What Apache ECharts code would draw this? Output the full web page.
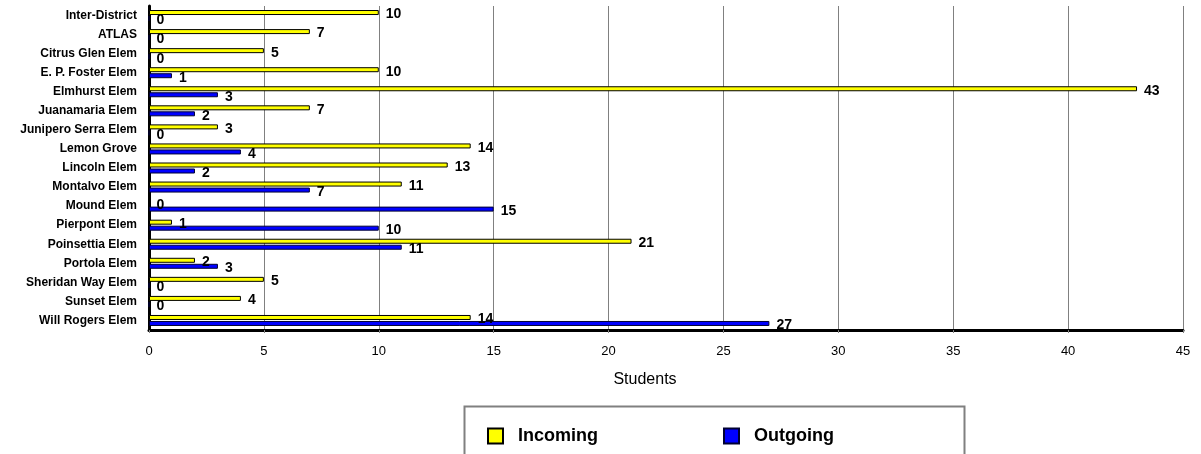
<!DOCTYPE html>
<html>
<head>
<meta charset="utf-8">
<script src="https://cdn.jsdelivr.net/npm/echarts@6/dist/echarts.min.js"></script>
<style>
html,body{margin:0;padding:0;background:#fff;}
#chart{width:1201px;height:454px;}
</style>
</head>
<body>
<div id="chart"></div>
<script>
const categories = ["Inter-District","ATLAS","Citrus Glen Elem","E. P. Foster Elem","Elmhurst Elem","Juanamaria Elem","Junipero Serra Elem","Lemon Grove","Lincoln Elem","Montalvo Elem","Mound Elem","Pierpont Elem","Poinsettia Elem","Portola Elem","Sheridan Way Elem","Sunset Elem","Will Rogers Elem"];
const incoming = [10,7,5,10,43,7,3,14,13,11,0,1,21,2,5,4,14];
const outgoing = [0,0,0,1,3,2,0,4,2,7,15,10,11,3,0,0,27];
const xTicks = {min:0, max:45, interval:5};
const axisTitle = "Students";
const seriesNames = ["Incoming","Outgoing"];

const FONT = "'Liberation Sans', Arial, sans-serif";
const chart = echarts.init(document.getElementById('chart'), null, {renderer:'canvas'});

const labelCfg = {
  show:true, position:'right', distance:7, offset:[0,2],
  fontFamily:FONT, fontWeight:'bold', fontSize:14, color:'#000'
};

chart.setOption({
  animation:false,
  backgroundColor:'#fff',
  grid:{left:149, right:18, top:6, bottom:124, containLabel:false},
  xAxis:{
    type:'value', min:xTicks.min, max:xTicks.max, interval:xTicks.interval,
    name:axisTitle, nameLocation:'middle', nameGap:42,
    nameTextStyle:{fontFamily:FONT, fontSize:16, color:'#000', padding:[0,42,0,0]},
    axisLine:{show:true, lineStyle:{color:'#000', width:3}},
    axisTick:{show:true, length:3, lineStyle:{color:'#808080'}},
    axisLabel:{fontFamily:FONT, fontSize:13, color:'#000', margin:15},
    splitLine:{show:true, lineStyle:{color:'#808080', width:1}}
  },
  yAxis:{
    type:'category', data:categories, inverse:true,
    axisLine:{show:true, lineStyle:{color:'#000', width:3}},
    axisTick:{show:false},
    axisLabel:{fontFamily:FONT, fontSize:12, fontWeight:'bold', color:'#000', margin:12},
    splitLine:{show:false}
  },
  legend:[
    {data:[seriesNames[0]], left:482, top:422, itemWidth:15, itemHeight:15, icon:'rect',
     textStyle:{fontFamily:FONT, fontSize:18, fontWeight:'bold', color:'#000', padding:[0,0,0,10]}},
    {data:[seriesNames[1]], left:718, top:422, itemWidth:15, itemHeight:15, icon:'rect',
     textStyle:{fontFamily:FONT, fontSize:18, fontWeight:'bold', color:'#000', padding:[0,0,0,10]}}
  ],
  graphic:[{
    type:'rect', left:462, top:404, z:-1,
    shape:{width:500, height:80},
    style:{fill:'none', stroke:'#808080', lineWidth:2}
  }],
  series:[
    {name:seriesNames[0], type:'bar', data:incoming, barWidth:5, barGap:'20%',
     itemStyle:{color:'#FFFF00', borderColor:'#000', borderWidth:1},
     label:labelCfg},
    {name:seriesNames[1], type:'bar', data:outgoing, barWidth:5, barGap:'20%',
     itemStyle:{color:'#0000FF', borderColor:'#000033', borderWidth:1},
     label:labelCfg}
  ]
});
</script>
</body>
</html>
